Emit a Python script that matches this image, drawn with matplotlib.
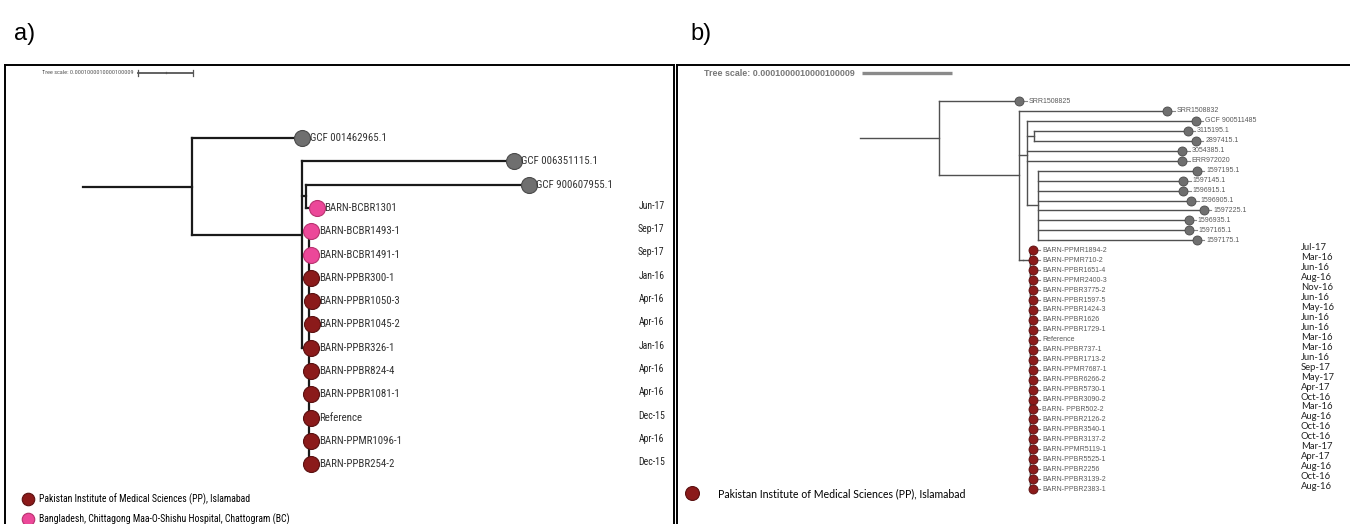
import matplotlib.pyplot as plt
from matplotlib.collections import LineCollection
from matplotlib.lines import Line2D

W, H = 1350, 524
NARROW = ['Roboto Condensed', 'Liberation Sans Narrow', 'Liberation Sans', 'DejaVu Sans']
SANS = ['Liberation Sans', 'DejaVu Sans']
SOFT = ['Lato', 'DejaVu Sans']

fill = {"ref": "#6f6f6f", "BC": "#ec4899", "PP": "#8b1a1a"}
edge = {"ref": "#4a4a4a", "BC": "#b8326f", "PP": "#5a1010"}

# ---- panel a: tips top to bottom, branch length to parent (x 1e-5 subst.)
a_names = ["GCF 001462965.1", "GCF 006351115.1", "GCF 900607955.1",
           "BARN-BCBR1301", "BARN-BCBR1493-1", "BARN-BCBR1491-1",
           "BARN-PPBR300-1", "BARN-PPBR1050-3", "BARN-PPBR1045-2",
           "BARN-PPBR326-1", "BARN-PPBR824-4", "BARN-PPBR1081-1",
           "Reference", "BARN-PPMR1096-1", "BARN-PPBR254-2"]
a_groups = ["ref", "ref", "ref", "BC", "BC", "BC",
            "PP", "PP", "PP", "PP", "PP", "PP", "PP", "PP", "PP"]
a_lengths = [20.0, 38.5, 40.5, 2.0, 0.4, 0.4,
             0.4, 0.5, 0.5, 0.4, 0.4, 0.4, 0.4, 0.4, 0.4]
a_dates = ["", "", "", "Jun-17", "Sep-17", "Sep-17", "Jan-16", "Apr-16",
           "Apr-16", "Jan-16", "Apr-16", "Apr-16", "Dec-15", "Apr-16", "Dec-15"]
# internal nodes: (branch length, children); ints are tip indices
a_tree = (19.8, [0, (20.0, [1, (0.7, [2, 3]), (1.3, list(range(4, 15)))])])

# ---- panel b
b_names = ["SRR1508825", "SRR1508832", "GCF 900511485", "3115195.1",
           "2897415.1", "3054385.1", "ERR972020", "1597195.1", "1597145.1",
           "1596915.1", "1596905.1", "1597225.1", "1596935.1", "1597165.1",
           "1597175.1",
           "BARN-PPMR1894-2", "BARN-PPMR710-2", "BARN-PPBR1651-4",
           "BARN-PPMR2400-3", "BARN-PPBR3775-2", "BARN-PPBR1597-5",
           "BARN-PPBR1424-3", "BARN-PPBR1626", "BARN-PPBR1729-1", "Reference",
           "BARN-PPBR737-1", "BARN-PPBR1713-2", "BARN-PPMR7687-1",
           "BARN-PPBR6266-2", "BARN-PPBR5730-1", "BARN-PPBR3090-2",
           "BARN- PPBR502-2", "BARN-PPBR2126-2", "BARN-PPBR3540-1",
           "BARN-PPBR3137-2", "BARN-PPMR5119-1", "BARN-PPBR5525-1",
           "BARN-PPBR2256", "BARN-PPBR3139-2", "BARN-PPBR2383-1"]
b_groups = ["ref"] * 15 + ["PP"] * 25
b_lengths = [8.9, 16.4, 18.7, 17.1, 18.0, 17.2, 17.2, 17.6, 16.1, 16.1,
             17.0, 18.4, 16.7, 16.8, 17.6] + [0.3] * 25
b_dates = ["Jul-17", "Mar-16", "Jun-16", "Aug-16", "Nov-16", "Jun-16",
           "May-16", "Jun-16", "Jun-16", "Mar-16", "Mar-16", "Jun-16",
           "Sep-17", "May-17", "Apr-17", "Oct-16", "Mar-16", "Aug-16",
           "Oct-16", "Oct-16", "Mar-17", "Apr-17", "Aug-16", "Oct-16", "Aug-16"]

scale_len = 10.0  # 0.0001 in the same units


def ladder(tips, bl):
    # nested comb of zero-length internal branches
    if len(tips) == 2:
        return (bl, tips)
    return (bl, [tips[0], ladder(tips[1:], 0.0)])


b_tree = (8.8, [0, (8.9, [1,
                          (0.9, [2, (0.7, [3, 4]), 5, 6, (1.2, list(range(7, 15)))]),
                          (0.4, [ladder(list(range(15, 40)), 0.8)])])])


def layout(node, x0, lengths, xs, segs):
    if isinstance(node, int):
        x = x0 + lengths[node]
        xs[node] = x
        segs.append([(x0, node), (x, node)])
        return node
    bl, kids = node
    x = x0 + bl
    ys = [layout(k, x, lengths, xs, segs) for k in kids]
    y = sum(ys) / len(ys)
    segs.append([(x0, y), (x, y)])
    segs.append([(x, min(ys)), (x, max(ys))])
    return y


def panel(left, right, top, bottom, x0px, ppu, y0px, ppr):
    ax = fig.add_axes([left / W, 1 - bottom / H, (right - left) / W, (bottom - top) / H])
    ax.set_xlim((left - x0px) / ppu, (right - x0px) / ppu)
    ax.set_ylim((bottom - y0px) / ppr, (top - y0px) / ppr)
    ax.set_xticks([])
    ax.set_yticks([])
    for s in ax.spines.values():
        s.set_linewidth(1.4)
        s.set_color("black")
    return ax


fig = plt.figure(figsize=(W / 100, H / 100), dpi=100)
fig.text(14 / W, 1 - 34 / H, "a)", fontsize=17, family=SANS, va="center")
fig.text(690 / W, 1 - 34 / H, "b)", fontsize=17, family=SANS, va="center")

# ---------------- panel a ----------------
ax = panel(5, 674, 65, 530, 83, 5.5, 138, 23.3)
xs = [0.0] * len(a_names)
segs = []
layout(a_tree, 0.0, a_lengths, xs, segs)
ax.add_collection(LineCollection(segs, colors="#1a1a1a", linewidths=1.6,
                                 capstyle="projecting", zorder=2))
for i, name in enumerate(a_names):
    g = a_groups[i]
    ax.plot(xs[i], i, "o", ms=11.5, mfc=fill[g], mec=edge[g], mew=0.8, zorder=3)
    ax.annotate(name, (xs[i], i), xytext=(5.5, 0), textcoords="offset points",
                va="center", fontsize=7.8, color="#333333", family=NARROW)
    if a_dates[i]:
        ax.text(0.986, i - 0.09, a_dates[i], transform=ax.get_yaxis_transform(),
                ha="right", va="center", fontsize=7.0, color="#222222", family=NARROW)

# scale bar
sy = -2.79
ax.plot([10, 10 + scale_len], [sy, sy], color="#555555", lw=1.3)
for tx, h in [(10, 0.12), (10 + scale_len / 2, 0.06), (10 + scale_len, 0.12)]:
    ax.plot([tx, tx], [sy - h, sy + h * (1 if h > 0.1 else 0)], color="#555555", lw=0.9)
ax.text(9.2, sy, "Tree scale: 0.0001000010000100009", ha="right", va="center",
        fontsize=4.4, color="#555555", family=NARROW)

handles = [Line2D([], [], ls="", marker="o", ms=9, mfc=fill[g], mec=edge[g], mew=0.8)
           for g in ["PP", "BC"]]
ax.legend(handles, ["Pakistan Institute of Medical Sciences (PP), Islamabad",
                    "Bangladesh, Chittagong Maa-O-Shishu Hospital, Chattogram (BC)"],
          loc="upper left", bbox_to_anchor=(23 / W, 1 - 493 / H),
          bbox_transform=fig.transFigure, frameon=False, borderpad=0,
          borderaxespad=0, handlelength=1.0, handletextpad=0.6,
          labelspacing=0.9, prop={"family": NARROW, "size": 7.0})

# ---------------- panel b ----------------
ax = panel(677, 1352, 65, 530, 860, 9.0, 101, 9.95)
xs = [0.0] * len(b_names)
segs = []
layout(b_tree, 0.0, b_lengths, xs, segs)
ax.add_collection(LineCollection(segs, colors="#505050", linewidths=1.0,
                                 capstyle="projecting", zorder=2))
for i, name in enumerate(b_names):
    g = b_groups[i]
    ax.plot([xs[i], xs[i] + 0.85], [i, i], color="#888888", lw=0.8, zorder=2)
    ax.plot(xs[i], i, "o", ms=6.5, mfc=fill[g], mec=edge[g], mew=0.6, zorder=3)
    ax.annotate(name, (xs[i], i), xytext=(6.8, 0), textcoords="offset points",
                va="center", fontsize=5.0, color="#5a5a5a", family=SANS)
for k, d in enumerate(b_dates):
    ax.text(0.9244, 15 + k - 0.25, d, transform=ax.get_yaxis_transform(),
            ha="left", va="center", fontsize=6.8, color="#222222", family=SOFT)

sy = -2.81
ax.plot([0.2, 0.2 + scale_len], [sy, sy], color="#8a8a8a", lw=2.4, solid_capstyle="butt")
ax.text(-0.6, sy, "Tree scale: 0.0001000010000100009", ha="right", va="center",
        fontsize=6.4, color="#777777", family=SANS, fontweight="bold")

handles = [Line2D([], [], ls="", marker="o", ms=10, mfc=fill["PP"], mec=edge["PP"], mew=0.8)]
ax.legend(handles, ["Pakistan Institute of Medical Sciences (PP), Islamabad"],
          loc="upper left", bbox_to_anchor=(685 / W, 1 - 488 / H),
          bbox_transform=fig.transFigure, frameon=False, borderpad=0,
          borderaxespad=0, handlelength=1.4, handletextpad=1.7,
          prop={"family": SOFT, "size": 7.6})

fig.savefig("out.png", dpi=100)
